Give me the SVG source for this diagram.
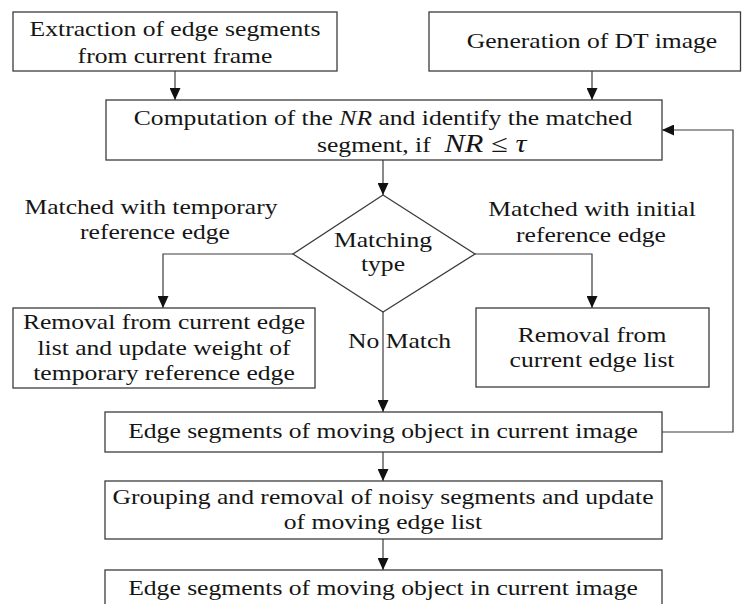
<svg xmlns="http://www.w3.org/2000/svg" width="742" height="604" viewBox="0 0 742 604">
  <style>
    .box { fill: #ffffff; stroke: #3c3c3c; stroke-width: 1.3; }
    .conn { fill: none; stroke: #3c3c3c; stroke-width: 1.2; }
    .t { font-family: "Liberation Serif", "Times New Roman", serif; font-size: 21px; fill: #151515; text-anchor: middle; }
    .ts { text-anchor: start; }
    .it { font-style: italic; }
    .math { font-style: italic; font-size: 25px; }
  </style>
  <defs>
    <marker id="arrow" viewBox="0 0 12 11" refX="12" refY="5.5" markerWidth="12" markerHeight="11" markerUnits="userSpaceOnUse" orient="auto">
      <path d="M0,0 L12,5.5 L0,11 z" fill="#111111"/>
    </marker>
  </defs>

  <rect width="742" height="604" fill="#ffffff"/>

  <!-- connectors -->
  <g id="connectors">
    <path class="conn" d="M175,71 V100" marker-end="url(#arrow)"/>
    <path class="conn" d="M592,71 V100" marker-end="url(#arrow)"/>
    <path class="conn" d="M383,160 V195" marker-end="url(#arrow)"/>
    <path class="conn" d="M293,254 H163 V308" marker-end="url(#arrow)"/>
    <path class="conn" d="M475,254 H592 V308" marker-end="url(#arrow)"/>
    <path class="conn" d="M383,312 V412" marker-end="url(#arrow)"/>
    <path class="conn" d="M662,432 H733 V130 H662" marker-end="url(#arrow)"/>
    <path class="conn" d="M383,452 V481" marker-end="url(#arrow)"/>
    <path class="conn" d="M383,539 V570" marker-end="url(#arrow)"/>
  </g>

  <!-- branch labels -->
  <g id="labels">
    <text class="t" transform="translate(151,214) scale(1.22,1)">Matched with temporary</text>
    <text class="t" transform="translate(155,239) scale(1.22,1)">reference edge</text>
    <text class="t" transform="translate(592,216) scale(1.22,1)">Matched with initial</text>
    <text class="t" transform="translate(591,242) scale(1.22,1)">reference edge</text>
    <text class="t ts" transform="translate(348,348) scale(1.22,1)">No Match</text>
  </g>

  <g id="extract">
    <rect class="box" x="13" y="12" width="324" height="59"/>
    <text class="t" transform="translate(175,36) scale(1.22,1)">Extraction of edge segments</text>
    <text class="t" transform="translate(175,63) scale(1.22,1)">from current frame</text>
  </g>

  <g id="dt-image">
    <rect class="box" x="429" y="12" width="311.5" height="59"/>
    <text class="t" transform="translate(592,48) scale(1.22,1)">Generation of DT image</text>
  </g>

  <g id="compute-nr">
    <rect class="box" x="106" y="100" width="556" height="60"/>
    <text class="t" transform="translate(383,125) scale(1.22,1)">Computation of the <tspan class="it">NR</tspan> and identify the matched</text>
    <text class="t ts" transform="translate(317,152) scale(1.22,1)">segment, if <tspan class="math" dx="6">NR ≤ τ</tspan></text>
  </g>

  <g id="matching-type">
    <polygon class="box" points="383,195 475,254 383,312 293,254"/>
    <text class="t" transform="translate(383,247) scale(1.22,1)">Matching</text>
    <text class="t" transform="translate(383,271) scale(1.22,1)">type</text>
  </g>

  <g id="remove-temporary">
    <rect class="box" x="13" y="308" width="302" height="80"/>
    <text class="t" transform="translate(164,329) scale(1.22,1)">Removal from current edge</text>
    <text class="t" transform="translate(164,355) scale(1.22,1)">list and update weight of</text>
    <text class="t" transform="translate(164,380) scale(1.22,1)">temporary reference edge</text>
  </g>

  <g id="remove-initial">
    <rect class="box" x="476" y="308" width="233" height="79"/>
    <text class="t" transform="translate(592,342) scale(1.22,1)">Removal from</text>
    <text class="t" transform="translate(592,367) scale(1.22,1)">current edge list</text>
  </g>

  <g id="moving-edges">
    <rect class="box" x="105" y="412" width="557" height="40"/>
    <text class="t" transform="translate(383,438) scale(1.22,1)">Edge segments of moving object in current image</text>
  </g>

  <g id="grouping">
    <rect class="box" x="105" y="481" width="557" height="58"/>
    <text class="t" transform="translate(383,504) scale(1.22,1)">Grouping and removal of noisy segments and update</text>
    <text class="t" transform="translate(383,529) scale(1.22,1)">of moving edge list</text>
  </g>

  <g id="moving-edges-final">
    <rect class="box" x="105" y="570" width="557" height="44"/>
    <text class="t" transform="translate(383,595) scale(1.22,1)">Edge segments of moving object in current image</text>
  </g>
</svg>
